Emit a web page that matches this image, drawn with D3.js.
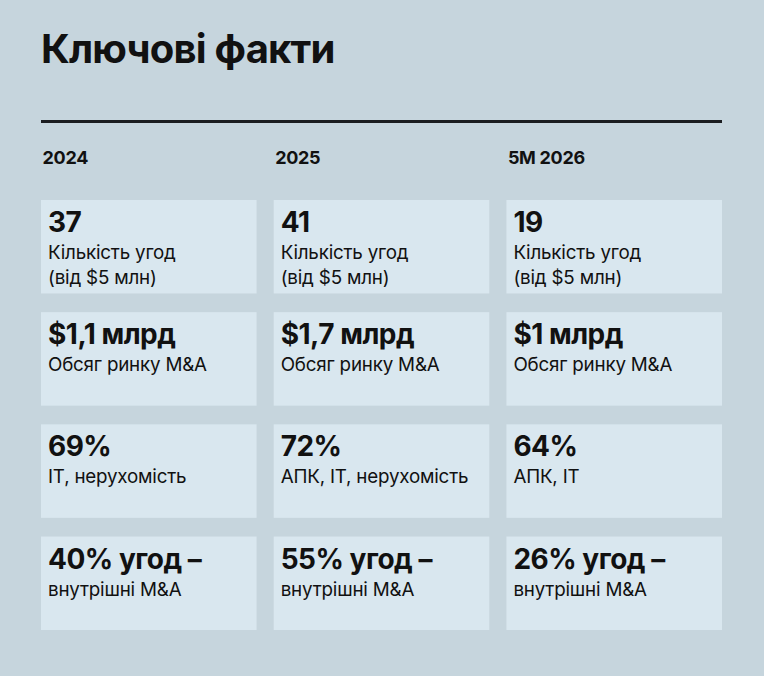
<!DOCTYPE html>
<html>
<head>
<meta charset="utf-8">
<script src="https://d3js.org/d3.v7.min.js"></script>
<style>
  html, body { margin: 0; padding: 0; background: #c6d5dd; }
  text { font-family: Inter, "Noto Sans", sans-serif; fill: #111; }
</style>
</head>
<body>
<script>
  // data
  const title = "Ключові факти";
  const periods = ["2024", "2025", "5M 2026"];
  const dealCount = ["37", "41", "19"];
  const marketVolume = ["$1,1 млрд", "$1,7 млрд", "$1 млрд"];
  const topSectorsShare = ["69%", "72%", "64%"];
  const topSectors = ["IT, нерухомість", "АПК, IT, нерухомість", "АПК, IT"];
  const domesticShare = ["40% угод –", "55% угод –", "26% угод –"];

  const rows = [
    { values: dealCount, labels: periods.map(() => ["Кількість угод", "(від $5 млн)"]) },
    { values: marketVolume, labels: periods.map(() => ["Обсяг ринку M&A"]) },
    { values: topSectorsShare, labels: topSectors.map(d => [d]) },
    { values: domesticShare, labels: periods.map(() => ["внутрішні M&A"]) }
  ];

  const W = 764, H = 676;

  const svg = d3.select("body").append("svg")
      .attr("width", W)
      .attr("height", H);

  svg.append("rect").attr("width", W).attr("height", H).attr("fill", "#c6d5dd");

  svg.append("text")
      .attr("x", 41).attr("y", 63)
      .attr("font-size", 40).attr("font-weight", 700)
      .attr("letter-spacing", -0.8)
      .text(title);

  svg.append("line")
      .attr("x1", 41).attr("x2", 722)
      .attr("y1", 121.5).attr("y2", 121.5)
      .attr("stroke", "#1b1d20").attr("stroke-width", 3);

  const x = d3.scaleBand()
      .domain(periods)
      .range([41, 722])
      .paddingInner(0.0735);

  const y = d3.scaleBand()
      .domain(d3.range(rows.length))
      .range([200, 630])
      .paddingInner(0.167);

  svg.selectAll(".period")
    .data(periods)
    .enter().append("text")
      .attr("class", "period")
      .attr("x", d => x(d) + 1.5)
      .attr("y", 164)
      .attr("font-size", 18).attr("font-weight", 700)
      .attr("letter-spacing", -0.3)
      .text(d => d);

  const cells = [];
  rows.forEach((r, ri) => periods.forEach((p, ci) => {
    cells.push({ row: ri, period: p, value: r.values[ci], label: r.labels[ci] });
  }));

  const g = svg.selectAll(".cell")
    .data(cells)
    .enter().append("g")
      .attr("class", "cell")
      .attr("transform", d => `translate(${x(d.period)},${y(d.row)})`);

  g.append("rect")
      .attr("width", x.bandwidth())
      .attr("height", y.bandwidth())
      .attr("fill", "#d9e7ef");

  g.append("text")
      .attr("x", 7).attr("y", 32)
      .attr("font-size", 28).attr("font-weight", 700)
      .attr("letter-spacing", -0.5)
      .text(d => d.value);

  g.selectAll(".lbl")
    .data(d => d.label)
    .enter().append("text")
      .attr("class", "lbl")
      .attr("x", 7)
      .attr("y", (d, i) => 59 + i * 25)
      .attr("font-size", 18.8)
      .attr("letter-spacing", -0.2)
      .text(d => d);
</script>
</body>
</html>
